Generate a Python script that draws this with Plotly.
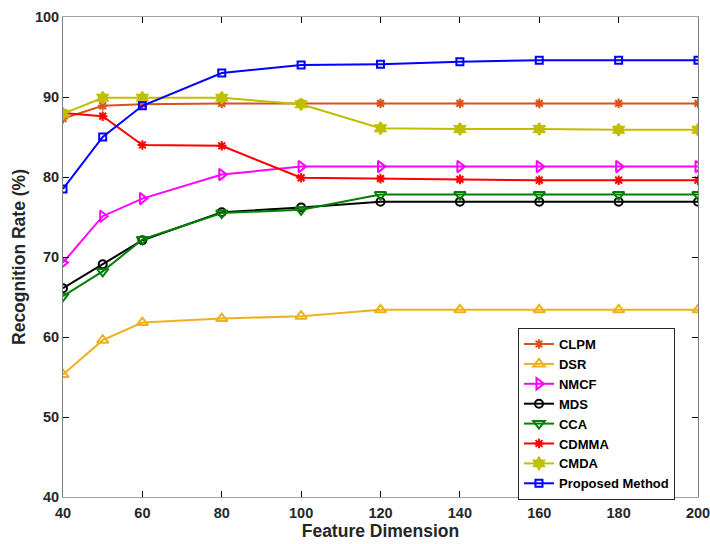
import plotly.graph_objects as go

x = [40, 50, 60, 80, 100, 120, 140, 160, 180, 200]

clpm = [87.3, 88.9, 89.1, 89.2, 89.2, 89.2, 89.2, 89.2, 89.2, 89.2]
dsr = [55.3, 59.6, 61.8, 62.3, 62.6, 63.4, 63.4, 63.4, 63.4, 63.4]
nmcf = [69.3, 75.1, 77.3, 80.3, 81.3, 81.3, 81.3, 81.3, 81.3, 81.3]
mds = [66.1, 69.1, 72.1, 75.6, 76.2, 76.9, 76.9, 76.9, 76.9, 76.9]
cca = [65.1, 68.2, 72.2, 75.5, 75.9, 77.8, 77.8, 77.8, 77.8, 77.8]
cdmma = [88.0, 87.6, 84.0, 83.9, 79.9, 79.8, 79.7, 79.6, 79.6, 79.6]
cmda = [87.9, 89.9, 89.9, 89.9, 89.1, 86.1, 86.0, 86.0, 85.9, 85.9]
proposed = [78.5, 85.0, 88.9, 93.0, 94.0, 94.1, 94.4, 94.6, 94.6, 94.6]

names = ["CLPM", "DSR", "NMCF", "MDS", "CCA", "CDMMA", "CMDA", "Proposed Method"]
series = [clpm, dsr, nmcf, mds, cca, cdmma, cmda, proposed]
colors = ["#D95319", "#EDB120", "#FF00FF", "#000000", "#008000", "#FF0000", "#BFBF00", "#0000FF"]
symbols = ["asterisk-open", "triangle-up-open", "triangle-right-open", "circle-open",
           "triangle-down-open", "asterisk-open", "hexagram", "square-open"]
sizes = [8, 10, 10, 8, 10, 8, 9, 7]

xticks = [40, 60, 80, 100, 120, 140, 160, 180, 200]
yticks = [40, 50, 60, 70, 80, 90, 100]

fig = go.Figure()
for n, s, c, sym, sz in zip(names, series, colors, symbols, sizes):
    fig.add_trace(go.Scatter(
        x=x, y=s, name="<b>%s</b>" % n, mode="lines+markers",
        line=dict(color=c, width=2),
        marker=dict(symbol=sym, size=sz, color=c, line=dict(color=c, width=2)),
    ))

axis_font = dict(family="Arial", size=14.5, color="#262626")
title_font = dict(family="Arial", size=17.5, color="#262626")
fig.update_layout(
    width=710, height=544,
    margin=dict(l=63, r=12, t=17, b=47),
    paper_bgcolor="white", plot_bgcolor="white",
    font=dict(family="Arial", color="#262626"),
    legend=dict(
        x=0.7165, y=0.352, xanchor="left", yanchor="top",
        bgcolor="white", bordercolor="#262626", borderwidth=1,
        font=dict(family="Arial", size=13, color="#000000"),
        tracegroupgap=0, itemwidth=30,
    ),
    showlegend=True,
)
fig.update_xaxes(
    range=[40, 200], tickvals=xticks,
    ticktext=["<b>%d</b>" % v for v in xticks],
    ticks="inside", ticklen=6, tickcolor="#000000", tickwidth=1,
    showline=True, linecolor="#A0A0A0", linewidth=1, mirror="ticks",
    showgrid=False, zeroline=False, tickfont=axis_font, automargin=False,
    ticklabeloverflow="allow", ticklabelstandoff=3,
    title=dict(text="<b>Feature Dimension</b>", font=title_font, standoff=3),
)
fig.update_yaxes(
    range=[40, 100], tickvals=yticks,
    ticktext=["<b>%d</b>" % v for v in yticks],
    ticks="inside", ticklen=6, tickcolor="#000000", tickwidth=1,
    showline=True, linecolor="#808080", linewidth=1, mirror="ticks",
    showgrid=False, zeroline=False, tickfont=axis_font, automargin=False,
    ticklabeloverflow="allow",
    title=dict(text="<b>Recognition Rate (%)</b>", font=title_font, standoff=4),
)
fig.write_html("out.html", config={"displayModeBar": False},
               post_script="document.body.style.margin='0px';document.body.style.overflow='hidden';")
